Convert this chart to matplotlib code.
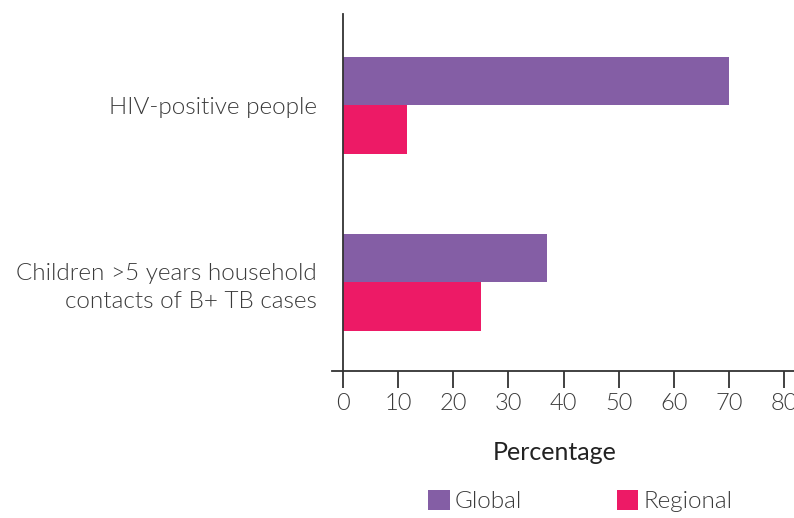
import matplotlib
matplotlib.use("Agg")
import matplotlib.pyplot as plt
from matplotlib.patches import Patch
import numpy as np

categories = ["Children >5 years household\ncontacts of B+ TB cases", "HIV-positive people"]
global_vals = [37, 70]
regional_vals = [25, 11.6]
series_names = ["Global", "Regional"]
x_ticks = [0, 10, 20, 30, 40, 50, 60, 70, 80]

purple = "#845ea5"
pink = "#ed1a66"
ink = "#3a3a3a"

plt.rcParams["font.family"] = ["Lato", "DejaVu Sans"]

fig = plt.figure(figsize=(7.94, 5.18), dpi=100)
ax = fig.add_axes([332 / 794, (518 - 371) / 518, (795 - 332) / 794, (371 - 14) / 518])

y = np.arange(len(categories))
h = 0.274
ax.barh(y + h / 2, global_vals, height=h, color=purple, label=series_names[0])
ax.barh(y - h / 2, regional_vals, height=h, color=pink, label=series_names[1])

ax.set_xlim(-2, 82)
ax.set_ylim(-0.5, 1.516)

for s in ["top", "right"]:
    ax.spines[s].set_visible(False)
ax.spines["left"].set_position(("data", 0))
for s in ["left", "bottom"]:
    ax.spines[s].set_color("#333333")
    ax.spines[s].set_linewidth(1.3)

ax.set_xticks(x_ticks)
ax.set_xticklabels([str(t) for t in x_ticks])
ax.tick_params(axis="x", length=12, width=1.3, color="#333333", pad=3.5,
               labelsize=17, labelcolor=ink)
for lbl in ax.get_xticklabels():
    lbl.set_fontweight(300)

ax.set_yticks(y)
ax.set_yticklabels(categories, ha="right", fontsize=17.5, color=ink,
                   fontweight=300, linespacing=1.38)
ax.tick_params(axis="y", length=0, pad=18.7)

fig.text(555 / 794, 1 - 452 / 518, "Percentage", ha="center", va="center",
         fontsize=18, color="#222222")

handles = [Patch(facecolor=purple, label=series_names[0]),
           Patch(facecolor=pink, label=series_names[1])]
fig.legend(handles=handles, loc="center", bbox_to_anchor=(580 / 794, 1 - 501 / 518),
           ncol=2, frameon=False, handlelength=0.9, handleheight=0.9,
           handletextpad=0.2, columnspacing=3.9, borderpad=0,
           prop={"size": 17.5, "weight": 300}, labelcolor=ink)

fig.savefig("out.png", dpi=100, facecolor="white")
